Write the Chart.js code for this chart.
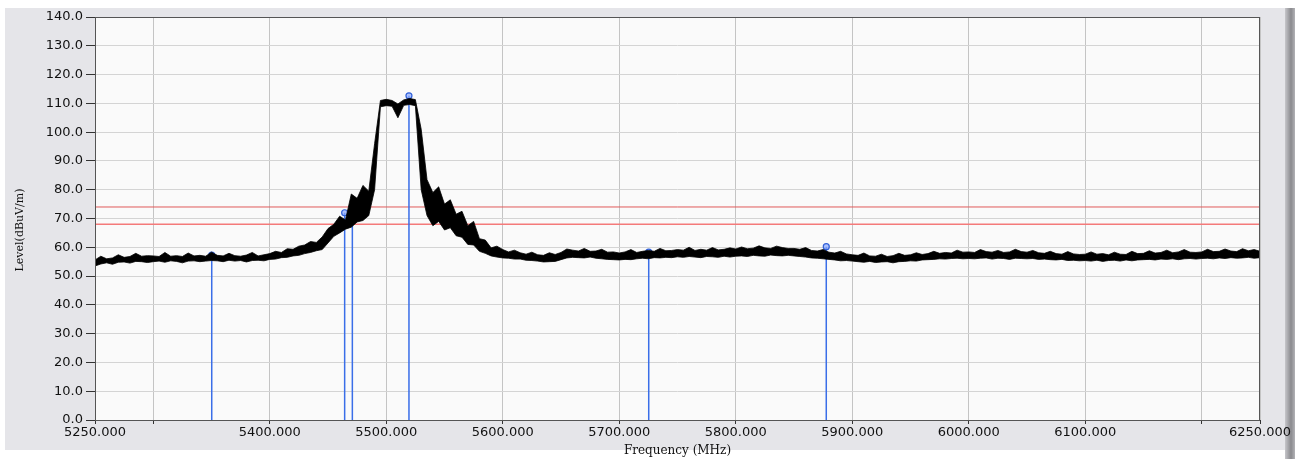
<!DOCTYPE html>
<html>
<head>
<meta charset="utf-8">
<title>Spectrum 5250-6250 MHz</title>
<script src="https://cdn.jsdelivr.net/npm/chart.js@4.4.1/dist/chart.umd.min.js"></script>
<style>
  body { margin: 0; background: #ffffff; width: 1295px; height: 459px; overflow: hidden; }
  #panel { position: absolute; left: 5px; top: 8px; width: 1280px; height: 442px; background: #e5e5e9; }
  #edge { position: absolute; left: 1285px; top: 8px; width: 10px; height: 451px;
          background: linear-gradient(to right, #c6c6ca, #8a8a8e 60%, #b2b2b6); }
  #spectrum { position: absolute; left: 0; top: 0; }
</style>
</head>
<body>
<div id="panel"></div>
<div id="edge"></div>
<canvas id="spectrum" width="1295" height="459"></canvas>
<script>
// Sweep: 5250 .. 6250 MHz, one reading every 5 MHz
const sweepStart = 5250;
const sweepStep = 5;

// Upper / lower edge of the noisy trace (dBuV/m)
const traceHigh = [
  55.6, 56.9, 56.0, 56.3, 57.4, 56.5, 56.8, 57.9, 56.9, 57.1,
  57.0, 56.8, 58.2, 56.9, 57.1, 56.8, 58.0, 57.0, 57.2, 56.9,
  58.3, 57.2, 57.0, 57.9, 57.1, 56.9, 57.3, 58.2, 57.0, 57.4,
  57.8, 58.6, 58.2, 59.5, 59.3, 60.4, 60.8, 62.0, 61.7, 63.6,
  66.5, 68.0, 70.8, 69.5, 78.5, 77.0, 81.5, 79.5, 96.0, 111.0,
  111.4, 111.0, 109.8, 111.2, 111.7, 111.3, 101.0, 83.5, 79.0, 81.0,
  75.0, 76.5, 71.5, 72.5, 67.5, 69.0, 63.0, 62.5, 59.8, 60.4,
  59.2, 58.4, 59.0, 58.1, 57.6, 58.3, 57.4, 57.2, 58.1, 57.5,
  58.2, 59.4, 59.0, 58.7, 59.6, 58.6, 58.7, 59.3, 58.3, 58.4,
  58.0, 58.4, 59.2, 58.2, 58.6, 58.9, 58.6, 59.6, 58.8, 58.9,
  59.2, 59.0, 60.0, 58.9, 59.3, 59.0, 59.9, 59.1, 59.3, 59.8,
  59.4, 60.1, 59.5, 59.7, 60.5, 59.8, 59.6, 60.4, 59.9, 59.6,
  59.6, 59.3, 59.9, 58.9, 58.7, 59.2, 58.3, 58.0, 58.6, 57.7,
  57.4, 57.2, 58.0, 57.0, 56.9, 57.6, 56.8, 57.1, 57.9, 57.2,
  57.4, 58.1, 57.5, 57.8, 58.6, 57.9, 58.2, 58.0, 59.0, 58.3,
  58.4, 58.2, 59.2, 58.5, 58.3, 58.9, 58.2, 58.4, 59.3, 58.5,
  58.3, 58.9, 58.1, 57.9, 58.6, 57.8, 57.6, 58.5, 57.7, 57.5,
  57.6, 58.4, 57.6, 57.8, 57.4, 58.3, 57.6, 57.5, 58.6, 57.8,
  57.9, 58.8, 58.0, 58.2, 59.0, 58.1, 58.4, 59.2, 58.3, 58.2,
  58.4, 59.3, 58.5, 58.6, 59.4, 58.7, 58.5, 59.5, 58.8, 59.2, 58.6
];
const traceLow = [
  53.5, 54.2, 54.6, 54.1, 54.8, 54.9, 54.5, 55.1, 55.0, 54.7,
  55.0, 55.2, 54.8, 55.3, 55.1, 54.6, 55.2, 55.3, 55.0, 55.2,
  55.4, 55.3, 55.0, 55.5, 55.2, 55.4, 54.9, 55.4, 55.5, 55.3,
  55.8, 55.9, 56.4, 56.5, 57.0, 57.2, 57.8, 58.2, 58.8, 59.2,
  61.5, 63.8, 65.0, 66.3, 67.0, 68.8, 69.3, 71.0, 80.0, 108.8,
  109.2, 109.0, 105.0, 109.3, 109.6, 109.2, 80.0, 71.0, 67.5, 69.0,
  66.0, 66.8, 64.0, 63.5, 61.0, 60.8, 58.6, 57.9, 57.0, 56.6,
  56.3, 56.2, 55.9, 55.9, 55.5, 55.4, 55.2, 54.9, 55.0, 55.1,
  55.7, 56.3, 56.5, 56.4, 56.3, 56.6, 56.2, 56.0, 55.8, 55.7,
  55.6, 55.8, 55.7, 56.0, 56.2, 56.0, 56.4, 56.3, 56.5, 56.4,
  56.7, 56.5, 56.8, 56.6, 56.4, 56.8, 56.7, 56.5, 56.9, 56.6,
  56.9, 57.0, 56.8, 57.2, 57.0, 56.9, 57.3, 57.1, 57.0, 57.2,
  57.0, 56.8, 56.6, 56.3, 56.2, 56.0, 55.8, 55.6, 55.3, 55.4,
  55.2, 55.0, 54.8, 55.1, 54.7, 54.9, 55.0, 54.6, 55.0, 55.1,
  55.3, 55.2, 55.6, 55.7, 55.8, 56.0, 55.9, 56.1, 56.2, 56.0,
  56.1, 56.0, 56.2, 56.3, 55.9, 56.2, 56.1, 55.8, 56.2, 56.1,
  56.0, 56.1, 55.8, 55.9, 55.7, 55.6, 55.8, 55.4, 55.5, 55.3,
  55.4, 55.2, 55.5, 55.1, 55.4, 55.5, 55.2, 55.6, 55.3, 55.6,
  55.7, 55.8, 55.6, 55.9, 55.8, 56.0, 55.7, 56.0, 56.1, 55.9,
  56.1, 56.2, 56.0, 56.3, 56.1, 56.4, 56.2, 56.3, 56.5, 56.2, 56.4
];

// Marker positions (MHz) and levels (dBuV/m)
const markerFreqs = [5350.2, 5464.3, 5470.9, 5519.5, 5725.3, 5877.7];
const markerLevels = [57.3, 72.0, 71.6, 112.6, 58.3, 60.2];

// Limit lines
const limitLevels = [74, 68];

// Axes
const freqTicks = [5250, 5300, 5400, 5500, 5600, 5700, 5800, 5900, 6000, 6100, 6200, 6250];
const hiddenFreqLabels = [5300, 6200];
const levelMin = 0, levelMax = 140, levelStep = 10;

const lowPoints = traceLow.map((v, i) => ({ x: sweepStart + i * sweepStep, y: v }));
const highPoints = traceHigh.map((v, i) => ({ x: sweepStart + i * sweepStep, y: v }));

const markerPoints = [];
markerFreqs.forEach((f, i) => {
    markerPoints.push({ x: f, y: 0 }, { x: f, y: markerLevels[i] }, { x: f, y: null });
});

const plotFrame = {
    id: 'plotFrame',
    beforeDraw(chart) {
        const { ctx, chartArea: a } = chart;
        ctx.save();
        ctx.fillStyle = '#fafafa';
        ctx.fillRect(a.left, a.top, a.right - a.left, a.bottom - a.top);
        ctx.restore();
    },
    afterDraw(chart) {
        const { ctx, chartArea: a } = chart;
        ctx.save();
        ctx.strokeStyle = '#555555';
        ctx.lineWidth = 1;
        ctx.strokeRect(a.left + 0.5, a.top + 0.5, a.right - a.left - 1, a.bottom - a.top);
        // y axis title
        ctx.translate(20, 230);
        ctx.rotate(-Math.PI / 2);
        ctx.fillStyle = '#111111';
        ctx.font = '11px "DejaVu Serif"';
        ctx.textAlign = 'center';
        ctx.textBaseline = 'middle';
        ctx.fillText('Level(dBuV/m)', 0, 0);
        ctx.restore();
    }
};

new Chart(document.getElementById('spectrum'), {
    type: 'line',
    data: {
        datasets: [
            {
                label: 'trace low',
                data: lowPoints,
                borderColor: '#000000',
                borderWidth: 0.8,
                pointRadius: 0,
                fill: false,
                order: 0
            },
            {
                label: 'trace high',
                data: highPoints,
                borderColor: '#000000',
                backgroundColor: '#000000',
                borderWidth: 0.8,
                pointRadius: 0,
                fill: '-1',
                order: 0
            },
            {
                label: 'markers',
                data: markerPoints,
                borderColor: '#3a6ee8',
                borderWidth: 1.5,
                spanGaps: false,
                pointRadius: ctx => (ctx.raw && ctx.raw.y > 0 ? 3 : 0),
                pointBackgroundColor: 'rgba(140,170,255,0.7)',
                pointBorderColor: '#2f5fd8',
                pointBorderWidth: 1.2,
                order: 1
            },
            {
                label: 'limit 1',
                data: [{ x: 5250, y: limitLevels[0] }, { x: 6250, y: limitLevels[0] }],
                borderColor: '#e05a5a',
                borderWidth: 1,
                pointRadius: 0,
                order: 2
            },
            {
                label: 'limit 2',
                data: [{ x: 5250, y: limitLevels[1] }, { x: 6250, y: limitLevels[1] }],
                borderColor: '#f47a7a',
                borderWidth: 1.5,
                pointRadius: 0,
                order: 2
            }
        ]
    },
    options: {
        responsive: false,
        animation: false,
        devicePixelRatio: 1,
        parsing: false,
        layout: { padding: { top: 17, right: 35, left: 0, bottom: 0 } },
        elements: { line: { tension: 0 } },
        plugins: {
            legend: { display: false },
            tooltip: { enabled: false }
        },
        scales: {
            x: {
                type: 'linear',
                min: sweepStart,
                max: 6250,
                afterBuildTicks: axis => { axis.ticks = freqTicks.map(v => ({ value: v })); },
                afterFit: axis => { axis.height = 39; },
                ticks: {
                    autoSkip: false,
                    maxRotation: 0,
                    padding: 1,
                    color: '#111111',
                    font: { family: 'DejaVu Sans', size: 13 },
                    callback: v => (hiddenFreqLabels.includes(v) ? '' : v.toFixed(3))
                },
                grid: { color: '#c4c4c4', lineWidth: 1, tickColor: '#333333', tickLength: 4 },
                border: { display: false },
                title: {
                    display: true,
                    text: 'Frequency (MHz)',
                    color: '#111111',
                    font: { family: 'DejaVu Serif', size: 12 },
                    padding: { top: 0, bottom: 1 }
                }
            },
            y: {
                min: levelMin,
                max: levelMax,
                afterFit: axis => { axis.width = 95; },
                ticks: {
                    stepSize: levelStep,
                    padding: 3,
                    color: '#111111',
                    font: { family: 'DejaVu Sans', size: 13 },
                    callback: v => v.toFixed(1)
                },
                grid: { color: '#d4d4d4', lineWidth: 1, tickColor: '#333333', tickLength: 9 },
                border: { display: false }
            }
        }
    },
    plugins: [plotFrame]
});
</script>
</body>
</html>
